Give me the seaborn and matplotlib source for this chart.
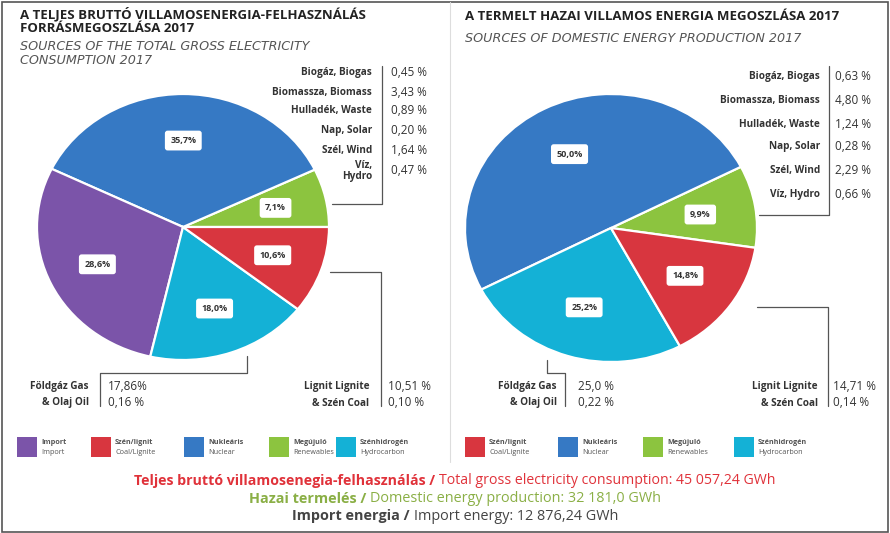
import matplotlib
matplotlib.use('Agg')
import matplotlib.pyplot as plt
import seaborn as sns
import numpy as np
from matplotlib.patches import Rectangle

sns.set_theme(style='white')
plt.rcParams['font.family'] = ['Open Sans', 'DejaVu Sans']

# colours by source
COL = {'import': '#7B54A9', 'coal': '#D8363F', 'nuclear': '#3679C4',
       'renew': '#8CC43F', 'hydro': '#14B1D6'}

# left pie: total gross consumption (counter-clockwise from 0 deg)
cons_keys = ['renew', 'nuclear', 'import', 'hydro', 'coal']
cons_vals = [7.1, 35.7, 28.6, 18.0, 10.6]

# right pie: domestic production
prod_keys = ['renew', 'nuclear', 'hydro', 'coal']
prod_vals = [9.9, 50.0, 25.2, 14.8]

# renewable breakdown
ren_names = ['Biogáz, Biogas', 'Biomassza, Biomass', 'Hulladék, Waste',
             'Nap, Solar', 'Szél, Wind']
ren_cons = ['0,45 %', '3,43 %', '0,89 %', '0,20 %', '1,64 %']
ren_prod = ['0,63 %', '4,80 %', '1,24 %', '0,28 %', '2,29 %']
hydro_cons = '0,47 %'
hydro_prod = '0,66 %'

gas_cons = ['17,86%', '0,16 %']
gas_prod = ['25,0 %', '0,22 %']
lig_cons = ['10,51 %', '0,10 %']
lig_prod = ['14,71 %', '0,14 %']

leg_left = ['import', 'coal', 'nuclear', 'renew', 'hydro']
leg_right = ['coal', 'nuclear', 'renew', 'hydro']
leg_text = {'import': ('Import', 'Import'), 'coal': ('Szén/lignit', 'Coal/Lignite'),
            'nuclear': ('Nukleáris', 'Nuclear'), 'renew': ('Megújuló', 'Renewables'),
            'hydro': ('Szénhidrogén', 'Hydrocarbon')}

W, H = 890, 533
fig = plt.figure(figsize=(W / 100, H / 100), dpi=100)


def pie_axes(cx, cy, rx, ry):
    return fig.add_axes([(cx - rx) / W, (H - cy - ry) / H, 2 * rx / W, 2 * ry / H])


def fmt(v):
    return f'{v:.1f}%'.replace('.', ',')


def draw_pie(ax, vals, keys, start, dist):
    wedges, _ = ax.pie(vals, colors=[COL[k] for k in keys], startangle=start,
                       counterclock=True, radius=1,
                       wedgeprops=dict(edgecolor='white', linewidth=1.6))
    ax.set_aspect('auto')
    ax.set_xlim(-1, 1)
    ax.set_ylim(-1, 1)
    ax.axis('off')
    for w, v in zip(wedges, vals):
        a = np.deg2rad((w.theta1 + w.theta2) / 2)
        ax.text(dist * np.cos(a), dist * np.sin(a), fmt(v), ha='center', va='center',
                fontsize=6.5, fontweight='bold', color='#333333',
                bbox=dict(boxstyle='round,pad=0.6,rounding_size=0.3', fc='white', ec='none'))


ax1 = pie_axes(183, 227, 146, 133)
draw_pie(ax1, cons_vals, cons_keys, 0, 0.65)
ax2 = pie_axes(611, 228, 146, 134)
draw_pie(ax2, prod_vals, prod_keys, -8.5, 0.62)

# overlay in pixel coordinates
ov = fig.add_axes([0, 0, 1, 1])
ov.set_xlim(0, W)
ov.set_ylim(H, 0)
ov.axis('off')
ov.patch.set_alpha(0)

ov.add_patch(Rectangle((1.5, 1.5), W - 3.5, H - 3, fill=False, ec='#555555', lw=1.2))
ov.plot([450, 450], [2, 462], color='#dddddd', lw=0.8)

# titles
title = dict(fontsize=9.5, fontweight='bold', color='#222222', va='center')
sub = dict(fontsize=9.2, style='italic', color='#555555', va='center',
           family=['DejaVu Sans'])
ov.text(20, 14, 'A TELJES BRUTTÓ VILLAMOSENERGIA-FELHASZNÁLÁS', **title)
ov.text(20, 29, 'FORRÁSMEGOSZLÁSA 2017', **title)
ov.text(20, 47, 'SOURCES OF THE TOTAL GROSS ELECTRICITY', **sub)
ov.text(20, 61, 'CONSUMPTION 2017', **sub)
ov.text(465, 17, 'A TERMELT HAZAI VILLAMOS ENERGIA MEGOSZLÁSA 2017', **title)
ov.text(465, 38, 'SOURCES OF DOMESTIC ENERGY PRODUCTION 2017', **sub)

lc = '#555555'
lab = dict(fontsize=7.2, fontweight='bold', color='#333333', va='center', ha='right')
val = dict(fontsize=8.5, color='#333333', va='center', ha='left')

# left renewable list
ys = [73, 92, 111, 130, 150]
for y, n, v in zip(ys, ren_names, ren_cons):
    ov.text(372, y, n, **lab)
    ov.text(391, y, v, **val)
ov.text(372, 171, 'Víz,\nHydro', linespacing=1.0, **lab)
ov.text(391, 171, hydro_cons, **val)
ov.plot([382, 382, 332], [66, 204, 204], color=lc, lw=0.9)

# right renewable list
ys = [76, 100, 124, 147, 170]
for y, n, v in zip(ys, ren_names, ren_prod):
    ov.text(820, y, n, **lab)
    ov.text(835, y, v, **val)
ov.text(820, 194, 'Víz, Hydro', **lab)
ov.text(835, 194, hydro_prod, **val)
ov.plot([829, 829, 759], [66, 215, 215], color=lc, lw=0.9)

# left gas / lignite
ov.plot([247, 247, 100, 100], [356, 373, 373, 406], color=lc, lw=0.9)
ov.text(89, 386, 'Földgáz Gas', **lab)
ov.text(89, 403, '& Olaj Oil', **lab)
ov.text(108, 386, gas_cons[0], **val)
ov.text(108, 403, gas_cons[1], **val)
ov.plot([330, 381, 381], [272, 272, 406], color=lc, lw=0.9)
ov.text(369, 386, 'Lignit Lignite', **lab)
ov.text(369, 403, '& Szén Coal', **lab)
ov.text(388, 386, lig_cons[0], **val)
ov.text(388, 403, lig_cons[1], **val)

# right gas / lignite
ov.plot([547, 547, 565, 565], [360, 373, 373, 406], color=lc, lw=0.9)
ov.text(557, 386, 'Földgáz Gas', **lab)
ov.text(557, 403, '& Olaj Oil', **lab)
ov.text(578, 386, gas_prod[0], **val)
ov.text(578, 403, gas_prod[1], **val)
ov.plot([757, 828, 828], [307, 307, 406], color=lc, lw=0.9)
ov.text(818, 386, 'Lignit Lignite', **lab)
ov.text(818, 403, '& Szén Coal', **lab)
ov.text(833, 386, lig_prod[0], **val)
ov.text(833, 403, lig_prod[1], **val)

# legend rows
def legend_row(keys, xs):
    for k, x in zip(keys, xs):
        ov.add_patch(Rectangle((x, 437), 20, 20, fc=COL[k], ec='none'))
        ov.text(x + 24, 442, leg_text[k][0], fontsize=5.2, fontweight='bold',
                color='#555555', va='center')
        ov.text(x + 24, 452, leg_text[k][1], fontsize=5.2, color='#555555', va='center')


legend_row(leg_left, [17, 91, 184, 269, 336])
legend_row(leg_right, [465, 558, 643, 734])

# bottom summary lines
renderer = fig.canvas.get_renderer()
summary = [
    ('Teljes bruttó villamosenegia-felhasználás / ',
     'Total gross electricity consumption: 45 057,24 GWh', '#E0323A', 481, 10.2),
    ('Hazai termelés / ', 'Domestic energy production: 32 181,0 GWh', '#8AAF45', 499, 10.4),
    ('Import energia / ', 'Import energy: 12 876,24 GWh', '#444444', 516, 10.4),
]
for bold, reg, c, y, fs in summary:
    t1 = ov.text(0, y, bold, fontsize=fs, fontweight='bold', color=c, va='center')
    t2 = ov.text(0, y, reg, fontsize=fs, color=c, va='center')
    w1 = t1.get_window_extent(renderer).width
    w2 = t2.get_window_extent(renderer).width
    x0 = 455 - (w1 + w2) / 2
    t1.set_x(x0)
    t2.set_x(x0 + w1)

fig.savefig('out.png', dpi=100)
